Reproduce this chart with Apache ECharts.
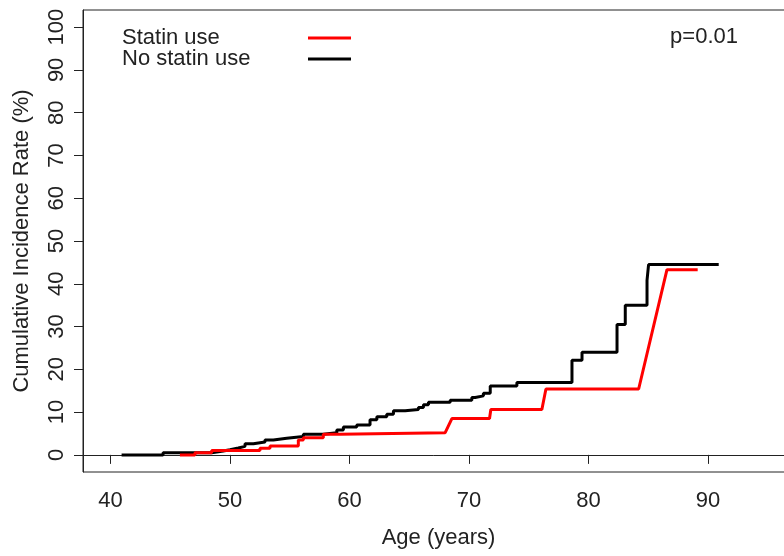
<!DOCTYPE html>
<html>
<head>
<meta charset="utf-8">
<script src="https://cdn.jsdelivr.net/npm/echarts@6/dist/echarts.min.js"></script>
<style>
  html, body { margin: 0; padding: 0; background: #fff; }
  #infoEcharts { width: 784px; height: 556px; }
</style>
</head>
<body>
<div id="infoEcharts"></div>
<script>
// no statin use: age where the curve steps, value after the step (%)
let noStatinAge = [40.93, 44.4, 48.47, 49.44, 50.0, 50.7, 51.26, 51.96, 52.93, 53.63, 54.75, 56.14, 57.81, 58.94, 59.49, 60.61, 61.72, 62.29, 63.12, 63.68, 64.66, 65.77, 66.19, 66.61, 68.43, 70.24, 70.52, 71.21, 71.78, 74.01, 78.62, 79.46, 82.39, 83.08, 84.9, 85.03, 90.9]
let noStatinRate = [0, 0.5, 0.9, 1.2, 1.6, 2.0, 2.6, 3.0, 3.5, 3.9, 4.3, 4.8, 5.2, 5.8, 6.5, 7.0, 8.2, 8.9, 9.5, 10.3, 10.6, 11.1, 11.7, 12.3, 12.8, 13.4, 13.8, 14.4, 16.1, 16.9, 22.1, 24.0, 30.5, 35.0, 40.8, 44.5, 44.5]
// statin use: corner points of the drawn curve
let statinAge = [45.81, 47.07, 47.07, 48.47, 48.47, 52.51, 52.51, 53.35, 53.35, 55.72, 55.72, 56.14, 56.14, 57.81, 57.81, 59.21, 59.21, 68.01, 68.57, 71.72, 71.83, 76.1, 76.44, 84.2, 86.57, 89.14]
let statinRate = [0, 0, 0.5, 0.5, 1.0, 1.0, 1.55, 1.55, 2.1, 2.1, 3.5, 3.5, 4.0, 4.0, 4.8, 4.8, 5.2, 5.2, 8.5, 8.5, 10.6, 10.6, 15.4, 15.4, 43.3, 43.3]
let xTicks = [40, 50, 60, 70, 80, 90]
let yTicks = [0, 10, 20, 30, 40, 50, 60, 70, 80, 90, 100]
let pValueText = 'p=0.01'

let myChart = echarts.init(document.getElementById('infoEcharts'))

let noStatinData = noStatinAge.map((a, i) => [a, noStatinRate[i]])
let statinData = statinAge.map((a, i) => [a, statinRate[i]])

const textColor = '#222'
const font = 'Liberation Sans, Arial, sans-serif'

const option = {
  animation: false,
  backgroundColor: '#fff',
  grid: {
    left: 83,
    top: 10,
    right: -10,
    bottom: 84,
    show: true,
    borderColor: '#222',
    borderWidth: 1,
    outerBoundsMode: 'none'
  },
  legend: {
    orient: 'vertical',
    left: 117,
    top: 22,
    align: 'right',
    itemWidth: 43,
    itemHeight: 3,
    itemGap: -1,
    icon: 'rect',
    data: ['Statin use', 'No statin use'],
    formatter: '{a|{name}}',
    textStyle: {
      color: textColor,
      fontFamily: font,
      fontSize: 22,
      rich: {
        a: {
          width: 181,
          align: 'left',
          fontSize: 22,
          lineHeight: 21,
          fontFamily: font,
          color: textColor
        }
      }
    }
  },
  graphic: [
    {
      type: 'text',
      right: 46,
      top: 26,
      style: {
        text: pValueText,
        fill: textColor,
        font: '22px Liberation Sans, Arial, sans-serif'
      }
    }
  ],
  xAxis: {
    type: 'value',
    min: 37.7,
    max: 97.2,
    name: 'Age (years)',
    nameLocation: 'middle',
    nameGap: 55,
    nameTextStyle: { color: textColor, fontFamily: font, fontSize: 22 },
    axisLine: { show: true, lineStyle: { color: '#222', width: 1 } },
    axisTick: {
      show: true,
      length: 9,
      customValues: xTicks,
      lineStyle: { color: '#222', width: 1 }
    },
    axisLabel: {
      customValues: xTicks,
      color: textColor,
      fontFamily: font,
      fontSize: 22,
      margin: 18
    },
    splitLine: { show: false }
  },
  yAxis: {
    type: 'value',
    min: -4,
    max: 104,
    name: 'Cumulative Incidence Rate (%)',
    nameLocation: 'middle',
    nameGap: 50,
    nameTextStyle: { color: textColor, fontFamily: font, fontSize: 22 },
    axisLine: { show: true, lineStyle: { color: '#222', width: 1 } },
    axisTick: {
      show: true,
      length: 9,
      customValues: yTicks,
      lineStyle: { color: '#222', width: 1 }
    },
    axisLabel: {
      customValues: yTicks,
      rotate: 90,
      color: textColor,
      fontFamily: font,
      fontSize: 22,
      margin: 15
    },
    splitLine: { show: false }
  },
  series: [
    {
      name: 'No statin use',
      type: 'line',
      step: 'end',
      symbol: 'none',
      lineStyle: { color: '#000', width: 3 },
      itemStyle: { color: '#000' },
      data: noStatinData
    },
    {
      name: 'Statin use',
      type: 'line',
      symbol: 'none',
      lineStyle: { color: '#ff0000', width: 3 },
      itemStyle: { color: '#ff0000' },
      data: statinData
    }
  ]
}
myChart.setOption(option)
</script>
</body>
</html>
